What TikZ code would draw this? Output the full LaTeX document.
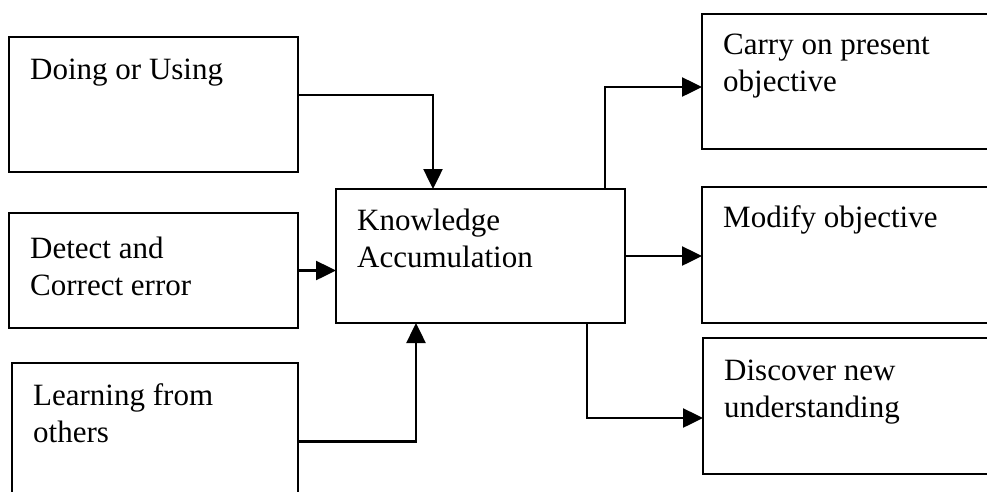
\documentclass[tikz,border=0pt]{standalone}
\usepackage{fontspec}
\setmainfont{Liberation Serif}
\usetikzlibrary{arrows.meta}

\begin{document}
\begin{tikzpicture}[
  x=1pt, y=-1pt,
  stage/.style={draw, rectangle, line width=2.5pt, anchor=north west, inner sep=0pt, outer sep=0pt},
  caption/.style={anchor=north west, align=left, inner sep=0pt, font=\fontsize{31}{37}\selectfont},
  flow/.style={->, line width=2.5pt},
]
\tikzset{>={Triangle[length=20pt, width=19pt]}}

\useasboundingbox (0,0) rectangle (987,491);
\clip (0,0) rectangle (987,491);

% Boxes - left column
\node[stage, minimum width=289pt, minimum height=135pt] (doing)    at (9,37)  {};
\node[stage, minimum width=289pt, minimum height=115pt] (detect)   at (9,213) {};
\node[stage, minimum width=286pt, minimum height=157pt] (learning) at (12,363) {};

% Box - middle
\node[stage, minimum width=289pt, minimum height=134pt] (ka) at (336,189) {};

% Boxes - right column (open to the right)
\node[stage, minimum width=300pt, minimum height=135pt] (carry)    at (702,14)  {};
\node[stage, minimum width=300pt, minimum height=136pt] (modify)   at (702,187) {};
\node[stage, minimum width=300pt, minimum height=136pt] (discover) at (703,338) {};

% Texts
\node[caption] (doing-txt)    at ([shift={(21,22)}]doing.north west)    {Doing or Using};
\node[caption] (detect-txt)   at ([shift={(21,24)}]detect.north west)   {Detect and\\Correct error};
\node[caption] (learning-txt) at ([shift={(21,20)}]learning.north west) {Learning from\\others};
\node[caption] (ka-txt)       at ([shift={(21,20)}]ka.north west)       {Knowledge\\Accumulation};
\node[caption] (carry-txt)    at ([shift={(21,20)}]carry.north west)    {Carry on present\\objective};
\node[caption] (modify-txt)   at ([shift={(21,18)}]modify.north west)   {Modify objective};
\node[caption] (discover-txt) at ([shift={(21,22)}]discover.north west) {Discover new\\understanding};

% Inputs
\draw[flow] ([yshift=9.5pt]doing.east) -| ([xshift=-47.5pt]ka.north);
\draw[flow] (detect.east) -- (detect.east -| ka.west);
\draw[flow] (learning.east) -| ([xshift=-64.5pt]ka.south);

% Outputs
\draw[flow] ([xshift=124.5pt]ka.north) |- ([yshift=-5.5pt]carry.west);
\draw[flow] (ka.east) -- (ka.east -| modify.west);
\draw[flow] ([xshift=106.5pt]ka.south) |- ([yshift=-12pt]discover.west);

\end{tikzpicture}
\end{document}
